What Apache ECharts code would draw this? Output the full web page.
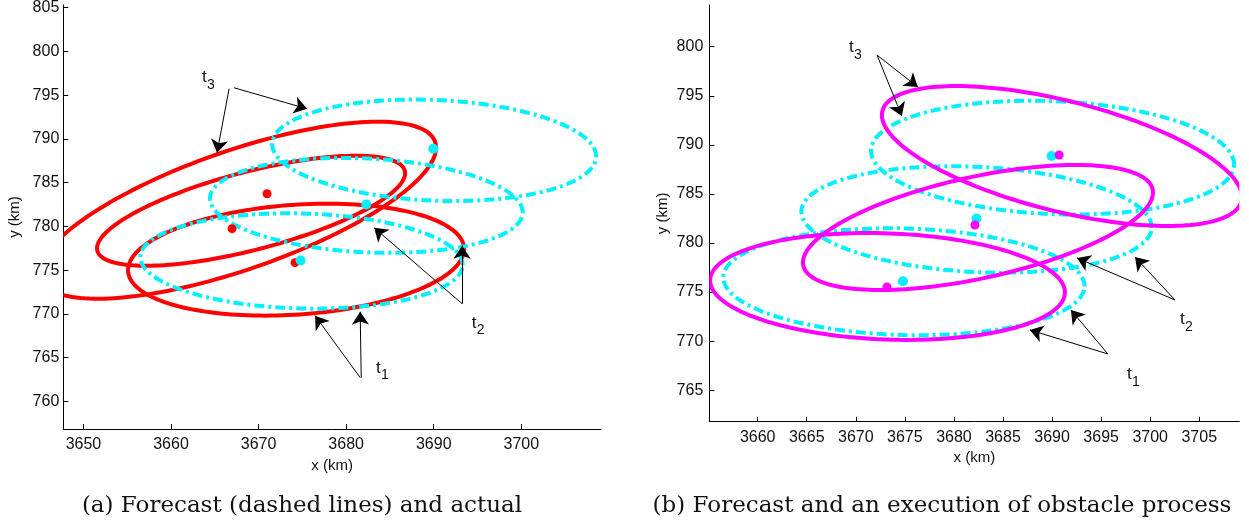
<!DOCTYPE html>
<html>
<head>
<meta charset="utf-8">
<script src="https://cdn.jsdelivr.net/npm/echarts@6/dist/echarts.min.js"></script>
<style>
  html, body { margin: 0; padding: 0; background: #fff; }
  #chart { width: 1249px; height: 529px; }
</style>
</head>
<body>
<div id="chart"></div>
<script>
// Axis ticks
const xTicksA = [3650, 3660, 3670, 3680, 3690, 3700];
const yTicksA = [760, 765, 770, 775, 780, 785, 790, 795, 800, 805];
const xTicksB = [3660, 3665, 3670, 3675, 3680, 3685, 3690, 3695, 3700, 3705];
const yTicksB = [765, 770, 775, 780, 785, 790, 795, 800];

// Axis extents (km)
const xRangeA = [3647.7, 3709.1];
const yRangeA = [756.85, 805.3];
const xRangeB = [3655.07, 3709.08];
const yRangeB = [761.79, 804.25];

// Ellipses: [centre x, centre y, semi-major, semi-minor, rotation deg] for t1, t2, t3
const forecastEllipses = [
  [3674.90, 776.05, 18.41, 5.43, -1.5],
  [3682.30, 782.40, 17.87, 5.36, -2.8],
  [3690.05, 788.70, 18.51, 5.75, -2.4]
];
const actualEllipses = [
  [3674.28, 776.20, 19.23, 6.27, 4.0],
  [3669.14, 781.79, 18.14, 4.46, 14.6],
  [3667.60, 781.85, 23.87, 6.80, 19.1]
];
const obstacleEllipses = [
  [3673.23, 775.57, 18.09, 5.41, -2.1],
  [3682.45, 781.58, 18.22, 5.17, 12.3],
  [3691.00, 788.86, 18.86, 5.62, -14.1]
];

// Centre points
const forecastCentres = [[3674.80, 776.10], [3682.30, 782.50], [3689.95, 788.87]];
const actualCentres = [[3674.16, 775.86], [3666.97, 779.74], [3670.97, 783.73]];
const obstacleCentres = [[3673.17, 775.52], [3682.14, 781.83], [3690.72, 788.97]];

// Annotation arrows: [x from, y from, x to, y to]
const arrowsA = [
  [3666.63, 795.73, 3665.26, 788.42],
  [3667.20, 795.84, 3675.54, 793.44],
  [3693.24, 771.17, 3693.24, 777.80],
  [3693.24, 771.17, 3683.19, 779.85],
  [3681.72, 762.72, 3681.60, 770.26],
  [3681.60, 762.72, 3676.45, 769.80]
];
const arrowsB = [
  [3672.16, 799.15, 3676.32, 795.89],
  [3672.16, 799.15, 3674.69, 792.94],
  [3702.53, 774.19, 3692.54, 778.47],
  [3702.53, 774.19, 3698.45, 778.57],
  [3695.69, 768.69, 3687.74, 771.14],
  [3695.69, 768.69, 3691.92, 773.17]
];

// Time-step labels t_k: [x, y, k]
const labelsA = [[3663.54, 796.41, 3], [3694.35, 768.32, 2], [3683.42, 763.18, 1]];
const labelsB = [[3669.30, 799.36, 3], [3703.03, 771.65, 2], [3697.63, 766.04, 1]];

const captionA = '(a) Forecast (dashed lines) and actual';
const captionB = '(b) Forecast and an execution of obstacle process';

const SANS = '"Liberation Sans", Arial, sans-serif';
const SERIF = '"DejaVu Serif", "Liberation Serif", serif';
const CYAN = '#00f0ff';
const RED = '#ff0000';
const MAGENTA = '#ff00ff';
const LINE_W = 4;

function ellipseRenderer(color, dash) {
  return function (params, api) {
    const cx = api.value(0), cy = api.value(1);
    const a = api.value(2), b = api.value(3);
    const th = api.value(4) * Math.PI / 180;
    const pts = [];
    const n = 180;
    for (let i = 0; i < n; i++) {
      const t = 2 * Math.PI * i / n;
      const ex = a * Math.cos(t), ey = b * Math.sin(t);
      pts.push(api.coord([
        cx + ex * Math.cos(th) - ey * Math.sin(th),
        cy + ex * Math.sin(th) + ey * Math.cos(th)
      ]));
    }
    const cs = params.coordSys;
    return {
      type: 'polygon',
      shape: { points: pts },
      style: {
        fill: 'none',
        stroke: color,
        lineWidth: LINE_W,
        lineDash: dash || null
      },
      clipPath: { type: 'rect', shape: { x: cs.x, y: cs.y, width: cs.width, height: cs.height } }
    };
  };
}

function labelRenderer(params, api) {
  const p = api.coord([api.value(0), api.value(1)]);
  return {
    type: 'group',
    children: [
      { type: 'text', x: p[0], y: p[1] + 3,
        style: { text: 't', font: '17px ' + SANS, fill: '#111', align: 'left', verticalAlign: 'bottom' } },
      { type: 'text', x: p[0] + 5, y: p[1] + 9,
        style: { text: String(api.value(2)), font: '14px ' + SANS, fill: '#111', align: 'left', verticalAlign: 'bottom' } }
    ]
  };
}

function ellipseSeries(data, idx, color, dash) {
  return {
    type: 'custom', xAxisIndex: idx, yAxisIndex: idx, silent: true,
    renderItem: ellipseRenderer(color, dash),
    encode: { x: 0, y: 1 },
    data: data
  };
}
function dotSeries(data, idx, color, size) {
  return {
    type: 'scatter', xAxisIndex: idx, yAxisIndex: idx, silent: true,
    symbol: 'circle', symbolSize: size,
    itemStyle: { color: color, opacity: 1 },
    data: data
  };
}
function arrowSeries(data, idx) {
  return {
    type: 'lines', coordinateSystem: 'cartesian2d', xAxisIndex: idx, yAxisIndex: idx, silent: true,
    symbol: ['none', 'arrow'], symbolSize: 13,
    lineStyle: { color: '#000', width: 1, opacity: 1 },
    data: data.map(d => ({ coords: [[d[0], d[1]], [d[2], d[3]]] }))
  };
}
function labelSeries(data, idx) {
  return {
    type: 'custom', xAxisIndex: idx, yAxisIndex: idx, silent: true,
    renderItem: labelRenderer, encode: { x: 0, y: 1 }, data: data
  };
}

const plain = v => String(Math.round(v));

function xAxis(idx, range, ticks, gap) {
  return {
    gridIndex: idx, type: 'value', min: range[0], max: range[1],
    name: 'x (km)', nameLocation: 'middle', nameGap: gap,
    nameTextStyle: { fontSize: 15, fontFamily: SANS, color: '#111' },
    axisLine: { show: true, onZero: false, lineStyle: { color: '#000', width: 1 } },
    axisTick: { show: true, inside: true, length: 5, customValues: ticks, lineStyle: { color: '#000' } },
    axisLabel: { customValues: ticks, formatter: plain, fontSize: 16, fontFamily: SANS, color: '#111', margin: 8 },
    splitLine: { show: false }
  };
}
function yAxis(idx, range, ticks, gap, margin) {
  return {
    gridIndex: idx, type: 'value', min: range[0], max: range[1],
    name: 'y (km)', nameLocation: 'middle', nameGap: gap,
    nameTextStyle: { fontSize: 15, fontFamily: SANS, color: '#111' },
    axisLine: { show: true, onZero: false, lineStyle: { color: '#000', width: 1 } },
    axisTick: { show: true, inside: true, length: 5, customValues: ticks, lineStyle: { color: '#000' } },
    axisLabel: { customValues: ticks, formatter: plain, fontSize: 16, fontFamily: SANS, color: '#111', margin: margin },
    splitLine: { show: false }
  };
}

const chart = echarts.init(document.getElementById('chart'), null, { renderer: 'canvas' });
chart.setOption({
  animation: false,
  backgroundColor: '#fff',
  grid: [
    { left: 63.3, top: 5, width: 537.7, height: 424, containLabel: false, outerBoundsMode: 'none' },
    { left: 709.3, top: 5, width: 530, height: 416.7, containLabel: false, outerBoundsMode: 'none' }
  ],
  xAxis: [xAxis(0, xRangeA, xTicksA, 28), xAxis(1, xRangeB, xTicksB, 28)],
  yAxis: [yAxis(0, yRangeA, yTicksA, 41, 4), yAxis(1, yRangeB, yTicksB, 39, 6)],
  graphic: [
    { type: 'text', x: 302, y: 506, silent: true,
      style: { text: captionA, font: '23px ' + SERIF, fill: '#111', align: 'center', verticalAlign: 'middle' } },
    { type: 'text', x: 942, y: 506, silent: true,
      style: { text: captionB, font: '23px ' + SERIF, fill: '#111', align: 'center', verticalAlign: 'middle' } }
  ],
  series: [
    // (a) actual vs forecast
    ellipseSeries(actualEllipses, 0, RED),
    ellipseSeries(forecastEllipses, 0, CYAN, [10, 4, 3, 4]),
    dotSeries(actualCentres, 0, RED, 9),
    dotSeries(forecastCentres, 0, CYAN, 10),
    arrowSeries(arrowsA, 0),
    labelSeries(labelsA, 0),
    // (b) forecast vs obstacle process
    ellipseSeries(forecastEllipses, 1, CYAN, [10, 4, 3, 4]),
    ellipseSeries(obstacleEllipses, 1, MAGENTA),
    dotSeries(forecastCentres, 1, CYAN, 10),
    dotSeries(obstacleCentres, 1, MAGENTA, 9),
    arrowSeries(arrowsB, 1),
    labelSeries(labelsB, 1)
  ]
});
</script>
</body>
</html>
